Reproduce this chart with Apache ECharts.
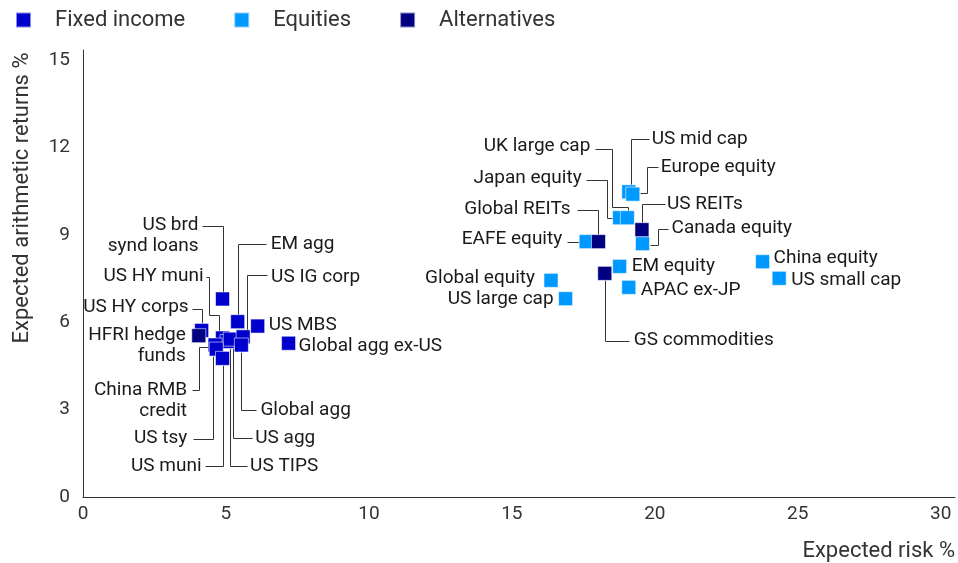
<!DOCTYPE html>
<html><head><meta charset="utf-8">
<script src="https://cdn.jsdelivr.net/npm/echarts@6/dist/echarts.min.js"></script>
<style>html,body{margin:0;padding:0;background:#fff}#c{width:958px;height:563px}</style>
</head><body><div id="c"></div>
<script>
// ---- data ----
const fixedNames  = ['US brd synd loans','EM agg','US MBS','Global agg ex-US','US HY corps','US HY muni','US TIPS','US agg','US IG corp','Global agg','China RMB credit','US tsy','US muni'];
const fixedRisk   = [4.88, 5.41, 6.11, 7.19, 4.15, 4.88, 5.04, 5.15, 5.60, 5.54, 4.62, 4.66, 4.88];
const fixedReturn = [6.80, 6.02, 5.87, 5.28, 5.72, 5.46, 5.34, 5.42, 5.50, 5.22, 5.22, 5.08, 4.76];

const eqNames  = ['US mid cap','Europe equity','Japan equity','UK large cap','Canada equity','EAFE equity','EM equity','APAC ex-JP','Global equity','US large cap','China equity','US small cap'];
const eqRisk   = [19.09, 19.23, 18.77, 19.04, 19.57, 17.60, 18.77, 19.09, 16.37, 16.88, 23.77, 24.35];
const eqReturn = [10.48, 10.40, 9.59, 9.59, 8.70, 8.77, 7.92, 7.20, 7.44, 6.81, 8.08, 7.51];

const altNames  = ['HFRI hedge funds','US REITs','Global REITs','GS commodities'];
const altRisk   = [4.05, 19.55, 18.03, 18.25];
const altReturn = [5.54, 9.18, 8.77, 7.68];

const seriesNames = ['Fixed income','Equities','Alternatives'];
const xTicks = [0,5,10,15,20,25,30];
const yTicks = [0,3,6,9,12,15];

// ---- label layout (pixel offsets from each marker) ----
const layout = {
  'US brd synd loans': {text:'US brd\nsynd loans', align:'right', dx:-24, dy:-74, leader:[[-21,-73],[0,-73],[0,-7]]},
  'EM agg':            {text:'EM agg', align:'left', dx:33, dy:-77, leader:[[0,-7],[0,-78],[28,-78]]},
  'US IG corp':        {text:'US IG corp', align:'left', dx:28, dy:-60, leader:[[24,-62],[4,-62],[4,-7]]},
  'US HY muni':        {text:'US HY muni', align:'right', dx:-19, dy:-62, leader:[[-17,-61],[-14,-61],[-14,-23],[-4,-23],[-4,-7]]},
  'US HY corps':       {text:'US HY corps', align:'right', dx:-13, dy:-23, leader:[[-10,-21],[0,-21],[0,-7]]},
  'US MBS':            {text:'US MBS', align:'left', dx:11, dy:-1},
  'Global agg ex-US':  {text:'Global agg ex-US', align:'left', dx:10, dy:3},
  'Global agg':        {text:'Global agg', align:'left', dx:19, dy:65, leader:[[0,7],[0,65],[15,65]]},
  'US agg':            {text:'US agg', align:'left', dx:25, dy:99, leader:[[3,7],[3,99],[22,99]]},
  'US TIPS':           {text:'US TIPS', align:'left', dx:23, dy:125, leader:[[3,7],[3,125],[20,125]]},
  'US muni':           {text:'US muni', align:'right', dx:-21, dy:108, leader:[[0,7],[0,108],[-18,108]]},
  'US tsy':            {text:'US tsy', align:'right', dx:-29, dy:89, leader:[[-3,7],[-3,90],[-23,90]]},
  'China RMB credit':  {text:'China RMB\ncredit', align:'right', dx:-28, dy:45, leader:[[-23,45],[-16,45],[-16,2],[-7,2]]},
  'HFRI hedge funds':  {text:'HFRI hedge\nfunds', align:'right', dx:-13, dy:0},
  'US mid cap':        {text:'US mid cap', align:'left', dx:23, dy:-53, leader:[[20,-53],[2,-53],[2,-7]]},
  'Europe equity':     {text:'Europe equity', align:'left', dx:28, dy:-27, leader:[[25,-27],[14,-27],[14,-1],[7,-1]]},
  'UK large cap':      {text:'UK large cap', align:'right', dx:-37, dy:-71, leader:[[-32,-69],[-15,-69],[-15,-11],[1,-11],[1,-7]]},
  'Japan equity':      {text:'Japan equity', align:'right', dx:-38, dy:-39, leader:[[-34,-38],[-13,-38],[-13,0],[-7,0]]},
  'US REITs':          {text:'US REITs', align:'left', dx:25, dy:-25, leader:[[23,-26],[0,-26],[0,-7]]},
  'Canada equity':     {text:'Canada equity', align:'left', dx:29, dy:-15, leader:[[25,-15],[15,-15],[15,1],[7,1]]},
  'Global REITs':      {text:'Global REITs', align:'right', dx:-28, dy:-32, leader:[[-21,-32],[0,-32],[0,-7]]},
  'EAFE equity':       {text:'EAFE equity', align:'right', dx:-24, dy:-2, leader:[[-19,0],[-7,0]]},
  'EM equity':         {text:'EM equity', align:'left', dx:12, dy:0},
  'APAC ex-JP':        {text:'APAC ex-JP', align:'left', dx:12, dy:3},
  'GS commodities':    {text:'GS commodities', align:'left', dx:29, dy:67, leader:[[0,7],[0,68],[24,68]]},
  'Global equity':     {text:'Global equity', align:'right', dx:-16, dy:-2},
  'US large cap':      {text:'US large cap', align:'right', dx:-12, dy:1},
  'China equity':      {text:'China equity', align:'left', dx:11, dy:-3},
  'US small cap':      {text:'US small cap', align:'left', dx:12, dy:2}
};

const colors = ['#0000CC','#0099FF','#000080'];
const FONT = 'Roboto';
const LH = 21;

function pts(names, xs, ys){ return names.map((n,i)=>({name:n, value:[xs[i], ys[i]]})); }
const groups = [pts(fixedNames,fixedRisk,fixedReturn), pts(eqNames,eqRisk,eqReturn), pts(altNames,altRisk,altReturn)];
const allPts = [].concat(groups[0], groups[1], groups[2]);

const chart = echarts.init(document.getElementById('c'), null, {renderer:'canvas'});
const crisp = v => Math.round(v) + 0.5;

chart.setOption({
  animation:false,
  textStyle:{fontFamily:FONT},
  legend:{
    data:seriesNames, left:10, top:4, itemWidth:15, itemHeight:15, itemGap:48, icon:'rect',
    textStyle:{fontSize:22, color:'#333', fontFamily:FONT, padding:[0,0,0,19]}
  },
  grid:{left:83, right:3, top:50, bottom:66},
  xAxis:{
    type:'value', min:0, max:30.5, interval:5,
    axisLine:{show:true, lineStyle:{color:'#333', width:1}}, axisTick:{show:false}, splitLine:{show:false},
    axisLabel:{fontSize:19, color:'#333', margin:8, showMaxLabel:false,
      formatter:v => xTicks.indexOf(v) >= 0 ? String(v) : ''}
  },
  yAxis:{
    type:'value', min:0, max:15.35, interval:3,
    axisLine:{show:true, lineStyle:{color:'#333', width:1}}, axisTick:{show:false}, splitLine:{show:false},
    axisLabel:{fontSize:19, color:'#333', margin:13, showMaxLabel:false,
      formatter:v => yTicks.indexOf(v) >= 0 ? String(v) : ''}
  },
  graphic:[
    {type:'text', x:22, y:198, rotation:Math.PI/2, style:{text:'Expected arithmetic returns %', align:'center', verticalAlign:'middle', fontSize:22, fontFamily:FONT, fill:'#333'}},
    {type:'text', x:955, y:551, style:{text:'Expected risk %', align:'right', verticalAlign:'middle', fontSize:22, fontFamily:FONT, fill:'#333'}}
  ],
  series:[
    {type:'custom', name:'labels', z:1, silent:true, data:allPts.map(p=>({name:p.name, value:p.value})),
      renderItem:function(params, api){
        const name = allPts[params.dataIndex].name;
        const L = layout[name];
        const p = api.coord([api.value(0), api.value(1)]);
        const ch = [];
        if (L.leader) ch.push({type:'polyline', silent:true,
          shape:{points:L.leader.map(q=>[crisp(p[0]+q[0]), crisp(p[1]+q[1])])},
          style:{stroke:'#333', lineWidth:1, fill:null}});
        const n = L.text.split('\n').length;
        ch.push({type:'text', silent:true, x:p[0]+L.dx, y:p[1]+L.dy+(n-1)*LH/2,
          style:{text:L.text, align:L.align, verticalAlign:'middle', fontSize:19, fontFamily:FONT, fill:'#1a1a1a', lineHeight:LH}});
        return {type:'group', children:ch};
      }
    }
  ].concat(seriesNames.map((s,i)=>({
    type:'scatter', name:s, z:2, symbol:'rect', symbolSize:14, data:groups[i],
    itemStyle:{color:colors[i], borderColor:'rgba(255,255,255,0.55)', borderWidth:1, opacity:1}
  })))
});
</script></body></html>
